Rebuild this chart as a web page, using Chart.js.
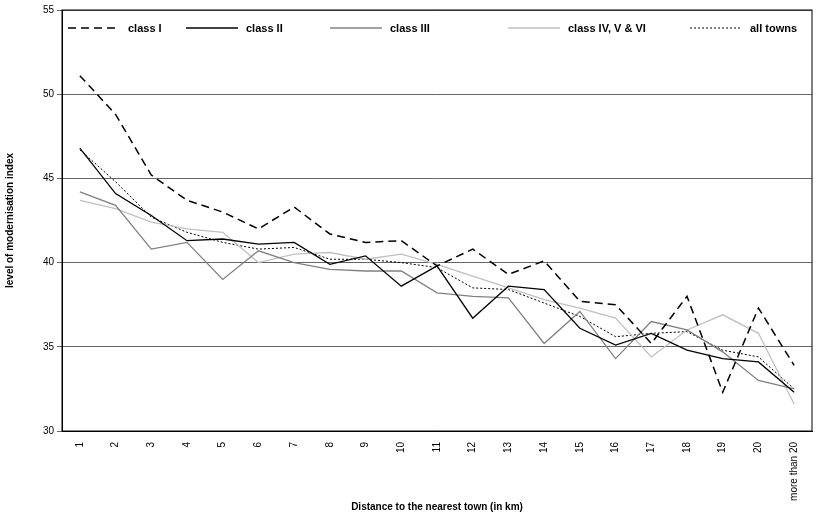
<!DOCTYPE html><html><head><script src="https://cdn.jsdelivr.net/npm/chart.js"></script>
<style>body{margin:0;background:#fff;font-family:"Liberation Sans",Arial,sans-serif}#w{position:relative;width:821px;height:517px}
#lg{position:absolute;top:22px;left:68px;width:740px;font:bold 11px "Liberation Sans",Arial;}
.it{position:absolute;display:flex;align-items:center;top:0}.it svg{margin-right:8px}</style></head><body>
<div id="w"><canvas id="c" width="821" height="517"></canvas><div id="lg"></div></div>
<script>
const categories=["1","2","3","4","5","6","7","8","9","10","11","12","13","14","15","16","17","18","19","20","more than 20"];
const classI=[51.1,48.8,45.2,43.7,43.0,42.0,43.3,41.7,41.2,41.3,39.8,40.8,39.3,40.1,37.7,37.5,35.2,38.0,32.3,37.3,33.9];
const classII=[46.8,44.1,42.8,41.3,41.4,41.1,41.2,39.9,40.4,38.6,39.8,36.7,38.6,38.4,36.1,35.1,35.8,34.8,34.3,34.1,32.3];
const classIII=[44.2,43.4,40.8,41.2,39.0,40.7,40.0,39.6,39.5,39.5,38.2,38.0,37.9,35.2,37.1,34.3,36.5,36.0,34.7,33.0,32.5];
const classIV=[43.7,43.2,42.4,42.0,41.8,40.0,40.5,40.6,40.2,40.5,39.9,39.2,38.5,37.8,37.3,36.7,34.4,36.0,36.9,35.8,31.6];
const allTowns=[46.7,44.8,42.7,41.8,41.2,40.8,40.9,40.2,40.2,40.0,39.7,38.5,38.4,37.6,36.8,35.6,35.8,35.9,34.8,34.4,32.5];
const series=[
 {label:"class I",data:classI,borderColor:"#000",borderWidth:1.5,borderDash:[8,5]},
 {label:"class II",data:classII,borderColor:"#000",borderWidth:1.3},
 {label:"class III",data:classIII,borderColor:"#808080",borderWidth:1.3},
 {label:"class IV, V & VI",data:classIV,borderColor:"#c0c0c0",borderWidth:1.3},
 {label:"all towns",data:allTowns,borderColor:"#000",borderWidth:1,borderDash:[2,2]}];
const F={family:"'Liberation Sans',Arial",size:10};
new Chart(document.getElementById('c'),{type:'line',data:{labels:categories,datasets:series.map(s=>({...s,pointRadius:0,tension:0,fill:false}))},
options:{responsive:false,animation:false,layout:{padding:{left:0,right:9,top:10,bottom:0}},
plugins:{legend:{display:false},tooltip:{enabled:false}},
scales:{x:{offset:true,afterFit(s){s.height=86},grid:{display:false,drawTicks:true},border:{color:'#000'},ticks:{color:'#000',font:F,maxRotation:90,minRotation:90,autoSkip:false},
 title:{display:true,text:'Distance to the nearest town (in km)',color:'#000',font:{...F,weight:'bold'},padding:{top:0,bottom:4}}},
 y:{min:30,max:55,afterFit(s){s.width=62},ticks:{stepSize:5,color:'#000',font:F},border:{color:'#000'},grid:{color:'#666',tickLength:5},
 title:{display:true,text:'level of modernisation index',color:'#000',font:{...F,weight:'bold'}}}}},
plugins:[{id:'box',afterDraw(ch){const a=ch.chartArea,c=ch.ctx;c.save();c.strokeStyle='#000';c.lineWidth=1;c.strokeRect(a.left,a.top,a.right-a.left,a.bottom-a.top);c.restore();}}]});
const pos=[0,118,262,440,622];const lg=document.getElementById('lg');
series.forEach((s,i)=>{const d=document.createElement('div');d.className='it';d.style.left=pos[i]+'px';
d.innerHTML=`<svg width="52" height="6"><line x1="0" y1="3" x2="52" y2="3" stroke="${s.borderColor}" stroke-width="${s.borderWidth}" ${s.borderDash?`stroke-dasharray="${s.borderDash.join(',')}"`:''}/></svg>${s.label}`;lg.appendChild(d);});
</script></body></html>
